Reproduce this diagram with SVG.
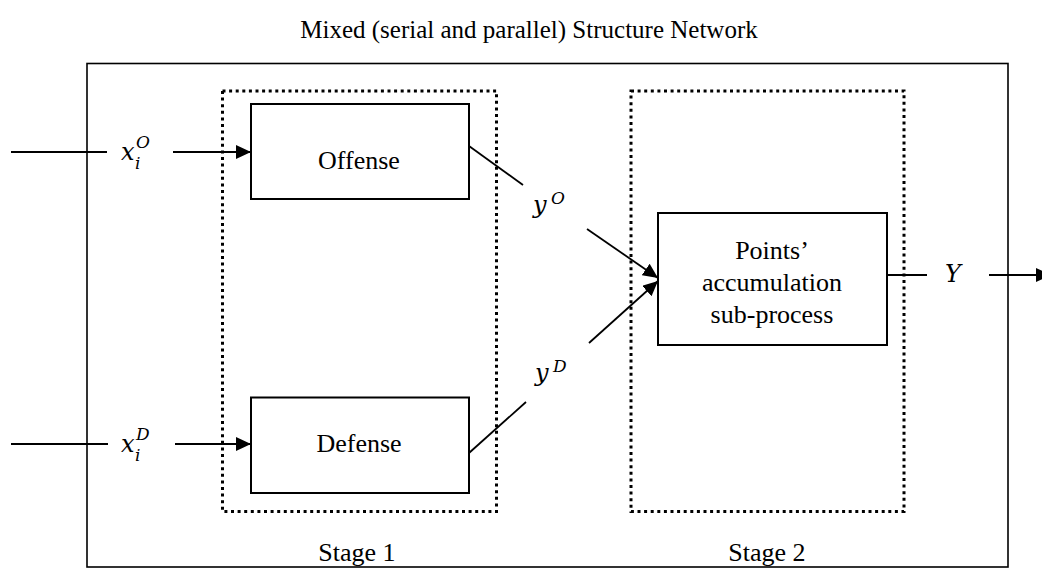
<svg xmlns="http://www.w3.org/2000/svg" width="1042" height="569" viewBox="0 0 1042 569">
<defs>
<style>
.t{font-family:"Liberation Serif","Times New Roman",serif;font-size:26px;fill:#000;text-anchor:middle}
.m{font-family:"DejaVu Serif",serif;font-style:italic;font-size:24px;fill:#000}
.ms{font-family:"DejaVu Serif",serif;font-style:italic;font-size:17px;fill:#000}
.box{fill:#fff;stroke:#000;stroke-width:2}
.dot{fill:none;stroke:#000;stroke-width:3;stroke-dasharray:3 3.6}
.ln{fill:none;stroke:#000;stroke-width:1.8}
</style>
<marker id="ah" markerUnits="userSpaceOnUse" markerWidth="16" markerHeight="14" refX="15" refY="7" orient="auto">
<path d="M0,0 L15,7 L0,14 z" fill="#000"/>
</marker>
</defs>
<rect width="1042" height="569" fill="#fff"/>
<text class="t" x="529" y="38" style="font-size:25px">Mixed (serial and parallel) Structure Network</text>
<g id="outer"><rect x="87" y="63.5" width="921" height="503.5" fill="none" stroke="#000" stroke-width="1.6"/></g>
<g id="stage1"><rect class="dot" x="222.5" y="91" width="274" height="420.5"/><text class="t" x="357" y="561">Stage 1</text></g>
<g id="stage2"><rect class="dot" x="631" y="91" width="273" height="420.5"/><text class="t" x="767" y="561">Stage 2</text></g>
<g id="connectors">
<line class="ln" x1="11" y1="152" x2="107" y2="152"/>
<line class="ln" x1="173" y1="152" x2="251" y2="152" marker-end="url(#ah)"/>
<line class="ln" x1="11" y1="444" x2="108" y2="444"/>
<line class="ln" x1="175" y1="444" x2="251" y2="444" marker-end="url(#ah)"/>
<line class="ln" x1="469" y1="146" x2="523" y2="185"/>
<line class="ln" x1="587" y1="229" x2="658" y2="278" marker-end="url(#ah)"/>
<line class="ln" x1="469" y1="453" x2="526" y2="402"/>
<line class="ln" x1="589" y1="343" x2="658" y2="281" marker-end="url(#ah)"/>
<line class="ln" x1="887" y1="275" x2="927" y2="275"/>
<line class="ln" x1="989" y1="275" x2="1051" y2="275" marker-end="url(#ah)"/>
</g>
<g id="offense"><rect class="box" x="251" y="104" width="218" height="95"/><text class="t" x="359" y="169">Offense</text></g>
<g id="defense"><rect class="box" x="251" y="397.5" width="218" height="95.5"/><text class="t" x="359" y="452">Defense</text></g>
<g id="points"><rect class="box" x="658" y="213" width="229" height="132"/>
<text class="t" x="772" y="259">Points’</text>
<text class="t" x="772" y="291">accumulation</text>
<text class="t" x="772" y="323">sub-process</text></g>
<g id="labels">
<text class="m" x="121" y="160">x</text><text class="ms" x="136" y="148">O</text><text class="ms" x="135" y="169">i</text>
<text class="m" x="121" y="452">x</text><text class="ms" x="136" y="440">D</text><text class="ms" x="135" y="461">i</text>
<text class="m" x="533" y="213">y</text><text class="ms" x="551" y="204">O</text>
<text class="m" x="535" y="381">y</text><text class="ms" x="553" y="372">D</text>
<text class="m" x="945" y="282">Y</text>
</g>
</svg>
